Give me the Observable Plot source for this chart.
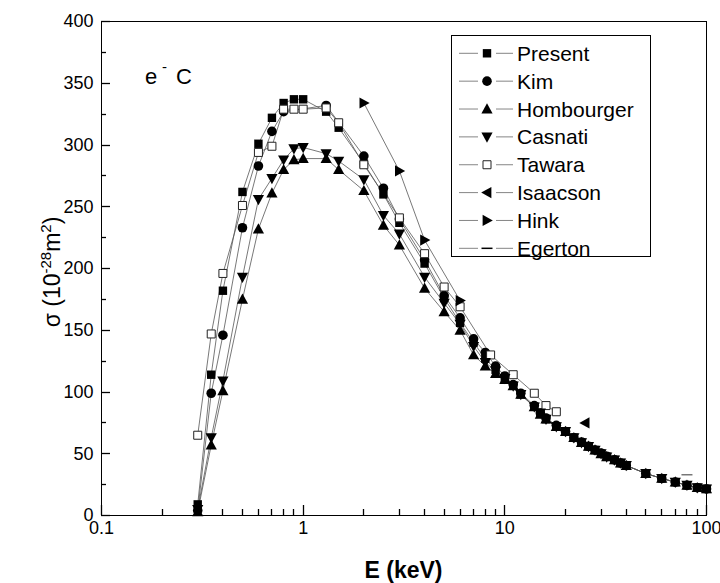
<!DOCTYPE html>
<html><head><meta charset="utf-8">
<script src="https://cdn.jsdelivr.net/npm/d3@7"></script>
<script src="https://cdn.jsdelivr.net/npm/@observablehq/plot@0.6"></script>
<style>
body{margin:0;background:#fff;}
#chart{width:720px;height:583px;}
svg{font-family:"Liberation Sans",Arial,sans-serif;}
</style></head><body><div id="chart"></div>
<script>
// ---- data (E in keV, sigma in 1e-28 m^2) ----
const xTicks = [0.1, 1, 10, 100];
const xMinor = [0.2,0.3,0.4,0.5,0.6,0.7,0.8,0.9,2,3,4,5,6,7,8,9,20,30,40,50,60,70,80,90];
const yTicks = [0,50,100,150,200,250,300,350,400];
const yMinor = [25,75,125,175,225,275,325,375];

const seriesNames = ["Present","Kim","Hombourger","Casnati","Tawara","Isaacson","Hink","Egerton"];

const presentE = [0.3,0.35,0.4,0.5,0.6,0.7,0.8,0.9,1.0,1.3,1.5,2,2.5,3,4,5,6,7,8,9,10,11,12,14,15,16,18,20,22,24,26,28,30,32,35,37.5,40,50,60,70,80,90,100];
const presentS = [9,114,182,262,301,322,334,337,337,327,314,285,260,237,204,176,156,140,127,118,111,105,98,88,83,78,72,68,63,59,56,53,50,47.5,45,42.5,40.5,34,30,27,24.5,22.5,21.5];

const kimE = [0.3,0.35,0.4,0.5,0.6,0.7,0.8,1.3,2,2.5,3,4,5,6,7,8,9,10,11,12,14,15,16,18,20,22,24,26,28,30,32,35,37.5,40,50,60,70,80,90,100];
const kimS = [4,99,146,233,283,311,327,332,291,265,240,207,178,160,143,132,121,113,106,99,89,83,79,73,68,63,59.5,56,53,50.5,48,45,42.5,40.5,34,30,27,24.5,22.5,21.5];

const hombE = [0.3,0.35,0.4,0.5,0.6,0.7,0.8,0.9,1.0,1.3,1.5,2,2.5,3,4,5,6,7,8,9,10,11,12,14,15,16,18,20,22,24,26,28,30,32,35,37.5,40,50,60,70,80,90,100];
const hombS = [3,57,101,175,232,261,280,288,289,289,280,263,235,219,184,165,150,130,121,115,110,105,98,88,82,78,72,68,63,59,56,53,50,47.5,45,42.5,40.5,34,30,27,24.5,22.5,21.5];

const casE = [0.3,0.35,0.4,0.5,0.6,0.7,0.8,0.9,1.0,1.3,1.5,2,2.5,3,4,5,6,7,8,9,10,11,12,14,15,16,18,20,22,24,26,28,30,32,35,37.5,40,50,60,70,80,90,100];
const casS = [5,63,109,193,256,273,288,297,298,293,287,272,243,228,193,172,155,137,124,117,111,105,98,88,83,78,72,68,63,59,56,53,50,47.5,45,42.5,40.5,34,30,27,24.5,22.5,21.5];

const tawaraE = [0.3,0.35,0.4,0.5,0.6,0.7,0.8,0.9,1.0,1.3,1.5,2,3,4,5,6,8.5,11,14,16,18];
const tawaraS = [65,147,196,251,294,299,329,329,329,330,318,284,241,212,185,169,130,114,99,89,84];

const isaacsonE = [25];
const isaacsonS = [75];

const hinkE = [2,3,4,6];
const hinkS = [334,279,223,174];

const egertonE = [80];
const egertonS = [33];

// ---- build tables ----
const rows = (name, E, S) => E.map((e, i) => ({series: name, E: e, S: S[i]}));
const present = rows("Present", presentE, presentS);
const kim = rows("Kim", kimE, kimS);
const homb = rows("Hombourger", hombE, hombS);
const cas = rows("Casnati", casE, casS);
const tawara = rows("Tawara", tawaraE, tawaraS);
const isaacson = rows("Isaacson", isaacsonE, isaacsonS);
const hink = rows("Hink", hinkE, hinkS);
const egerton = rows("Egerton", egertonE, egertonS);
const lined = [...present, ...kim, ...homb, ...cas, ...tawara, ...hink];

// ---- custom marker shapes ----
const poly = pts => ({draw(ctx){ ctx.moveTo(pts[0][0], pts[0][1]); for (const p of pts.slice(1)) ctx.lineTo(p[0], p[1]); ctx.closePath(); }});
const symSquare = poly([[-4.2,-4.2],[4.2,-4.2],[4.2,4.2],[-4.2,4.2]]);
const symCircle = {draw(ctx){ ctx.moveTo(4.8,0); ctx.arc(0,0,4.8,0,2*Math.PI); }};
const symUp = poly([[0,-5.8],[5.6,4.4],[-5.6,4.4]]);
const symDown = poly([[0,5.8],[5.6,-4.4],[-5.6,-4.4]]);
const symLeft = poly([[-5.8,0],[4.4,-5.6],[4.4,5.6]]);
const symRight = poly([[5.8,0],[-4.4,-5.6],[-4.4,5.6]]);
const symDash = {draw(ctx){ ctx.moveTo(-5.5,0); ctx.lineTo(5.5,0); }};
const symOpen = poly([[-4,-4],[4,-4],[4,4],[-4,4]]);

const dots = (data, sym, fill, stroke, sw) => Plot.dot(data, {x: "E", y: "S", symbol: sym, r: 4.5, fill, stroke, strokeWidth: sw});

const W = 720, H = 583, mL = 101, mR = 14, mT = 21, mB = 68;

const plot = Plot.plot({
  width: W, height: H,
  marginLeft: mL, marginRight: mR, marginTop: mT, marginBottom: mB,
  style: {fontFamily: "Liberation Sans, Arial, sans-serif", fontSize: "18px", color: "#000", background: "#fff"},
  x: {type: "log", domain: [0.1, 100]},
  y: {domain: [0, 400]},
  marks: [
    Plot.axisY(yTicks, {tickSize: 0, tickPadding: 8, label: null, tickFormat: d => String(d)}),
    Plot.axisX(xTicks, {tickSize: 0, tickPadding: 6, label: null, tickFormat: d => String(d)}),
    Plot.line(lined, {x: "E", y: "S", z: "series", stroke: "#555", strokeWidth: 0.8}),
    dots(kim, symCircle, "#000", "none", 0),
    dots(present, symSquare, "#000", "none", 0),
    dots(tawara, symOpen, "#fff", "#222", 1),
    dots(homb, symUp, "#000", "none", 0),
    dots(cas, symDown, "#000", "none", 0),
    dots(isaacson, symLeft, "#000", "none", 0),
    dots(hink, symRight, "#000", "none", 0),
    dots(egerton, symDash, "none", "#777", 1.5),
    Plot.frame({stroke: "#000", strokeWidth: 1})
  ]
});
document.getElementById("chart").appendChild(plot);

const svg = d3.select(plot);
const xs = plot.scale("x"), ys = plot.scale("y");
const bottom = H - mB, left = mL;

// ---- inward ticks, positioned through Plot's scales ----
const tk = svg.append("g").attr("stroke", "#000").attr("stroke-width", 1.3);
const addY = (vals, len) => vals.forEach(v => { const y = Math.round(ys.apply(v)) + 0.5;
  tk.append("line").attr("x1", left).attr("x2", left + len).attr("y1", y).attr("y2", y); });
const addX = (vals, len) => vals.forEach(v => { const x = Math.round(xs.apply(v)) + 0.5;
  tk.append("line").attr("x1", x).attr("x2", x).attr("y1", bottom).attr("y2", bottom - len); });
addY(yTicks, 9); addY(yMinor, 5); addX(xTicks, 10); addX(xMinor, 6);

// ---- annotations and legend ----
const ann = svg.append("text").attr("font-size", 22).attr("fill", "#000").attr("text-anchor", "start");
ann.append("tspan").attr("x", 145).attr("y", 84).text("e");
ann.append("tspan").attr("x", 162).attr("y", 72).attr("font-size", 15).text("-");
ann.append("tspan").attr("x", 176).attr("y", 84).text("C");

const yt = svg.append("text").attr("transform", "translate(60,272) rotate(-90)")
  .attr("text-anchor", "middle").attr("font-size", 23).attr("fill", "#000");
yt.append("tspan").text("σ (10");
yt.append("tspan").attr("dy", -9).attr("font-size", 15).text("-28");
yt.append("tspan").attr("dy", 9).text("m");
yt.append("tspan").attr("dy", -9).attr("font-size", 15).text("2");
yt.append("tspan").attr("dy", 9).text(")");

svg.append("text").attr("x", 403.5).attr("y", 578).attr("text-anchor", "middle")
  .attr("font-size", 23).attr("font-weight", "bold").attr("fill", "#000").text("E (keV)");

const legendSyms = [
  [symSquare, "#000", "none"], [symCircle, "#000", "none"], [symUp, "#000", "none"], [symDown, "#000", "none"],
  [symOpen, "#fff", "#222"], [symLeft, "#000", "none"], [symRight, "#000", "none"], [symDash, "none", "#000"]
];
const lg = svg.append("g");
lg.append("rect").attr("x", 451.5).attr("y", 35.5).attr("width", 199).attr("height", 221)
  .attr("fill", "#fff").attr("stroke", "#000").attr("stroke-width", 1);
seriesNames.forEach((name, i) => {
  const y = 53.3 + i * 27.86;
  lg.append("line").attr("x1", 459).attr("x2", 478).attr("y1", y).attr("y2", y).attr("stroke", "#666").attr("stroke-width", 0.8);
  lg.append("line").attr("x1", 496).attr("x2", 513).attr("y1", y).attr("y2", y).attr("stroke", "#666").attr("stroke-width", 0.8);
  const [sym, fill, stroke] = legendSyms[i];
  const p = d3.path(); sym.draw(p);
  lg.append("path").attr("d", p.toString()).attr("transform", `translate(487,${y})`)
    .attr("fill", fill).attr("stroke", stroke).attr("stroke-width", name === "Egerton" ? 1.5 : 1);
  lg.append("text").attr("x", 517).attr("y", y).attr("dy", "0.36em").attr("text-anchor", "start")
    .attr("font-size", 21).attr("fill", "#000").text(name);
});
</script></body></html>
